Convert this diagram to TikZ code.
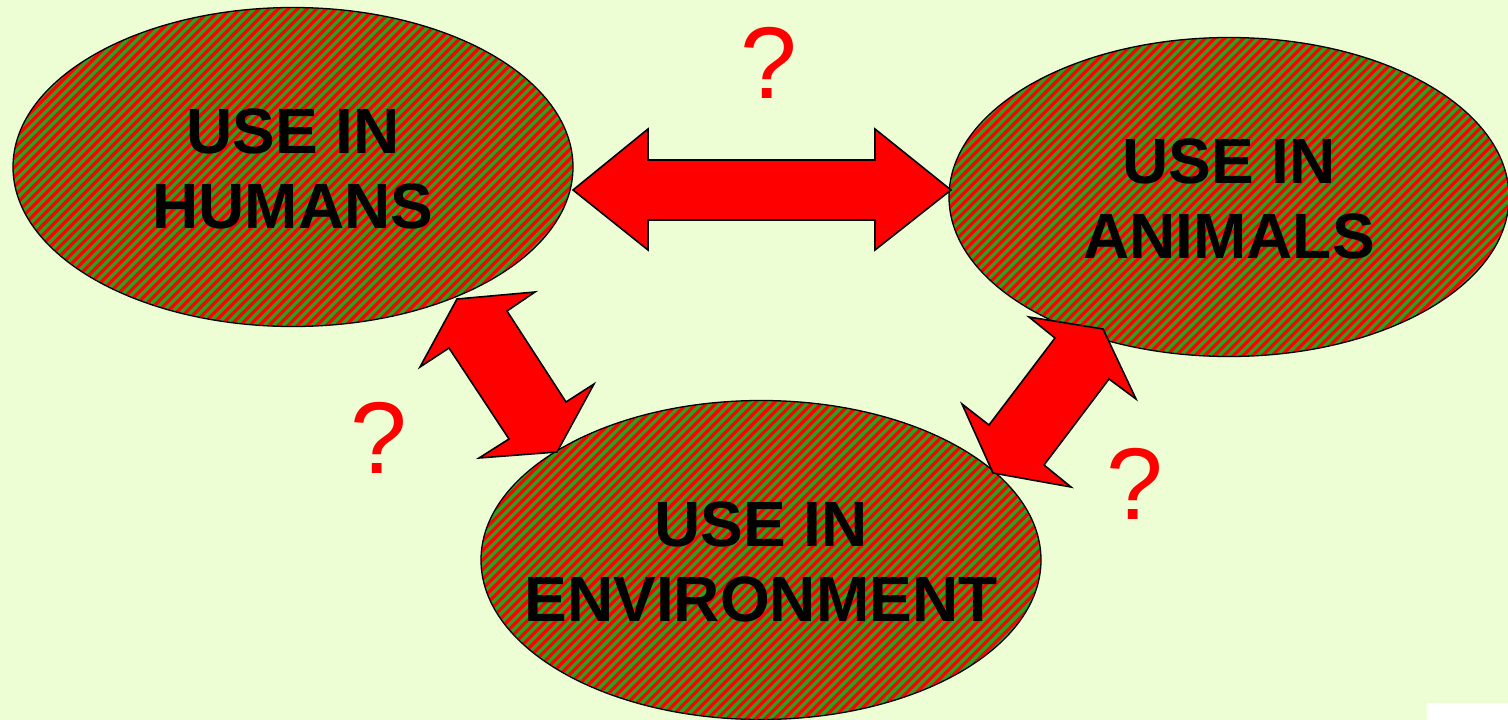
\documentclass[tikz,border=0pt]{standalone}
\usepackage{fontspec}
\setmainfont{Liberation Sans}
\usetikzlibrary{shapes.geometric}
\definecolor{bg}{RGB}{238,254,212}
\definecolor{leaf}{RGB}{44,160,32}
\definecolor{hot}{RGB}{255,0,0}
\begin{document}
\begin{tikzpicture}[x=1pt,y=-1pt,
  blob/.style={ellipse,draw=black,line width=1.3pt,inner sep=0pt,
    minimum width=560pt,minimum height=319pt,fill=leaf,
    path picture={\foreach \k in {-60,...,60}
      \draw[hot,line width=3.2pt] ([xshift=\k*9.6pt]path picture bounding box.center)
        ++(-300pt,-300pt) -- ++(600pt,600pt);}},
  lbl/.style={align=center,font=\fontsize{64}{75}\selectfont\bfseries,text=black,inner sep=0pt},
  qmark/.style={text=hot,font=\fontsize{102}{105}\selectfont,inner sep=0pt},
  fat/.style={fill=hot,draw=black,line width=1.6pt,line join=miter}]
\useasboundingbox (0,0) rectangle (1508,720);
\fill[bg] (0,0) rectangle (1508,720);
\fill[white] (1427,703) rectangle (1508,720);

\node[blob] (hum) at (293,167) {};
\node[blob] (ani) at (1229,197) {};
\node[blob] (env) at (761,560) {};
\node[lbl] (humt) at ([yshift=-2pt]hum.center) {USE IN\\HUMANS};
\node[lbl] (anit) at ([yshift=-2pt]ani.center) {USE IN\\ANIMALS};
\node[lbl] (envt) at ([yshift=-2pt]env.center) {USE IN\\ENVIRONMENT};

% top double arrow
\draw[fat] (573,190) -- (648,129) -- (648,160) -- (875,160) -- (875,129) -- (951,190)
  -- (875,250) -- (875,220) -- (648,220) -- (648,250) -- cycle;
% left diagonal double arrow
\draw[fat] (457,299) -- (535,292) -- (507,311) -- (566,402) -- (594,384) -- (557,452)
  -- (479,458) -- (509,439) -- (449,348) -- (420,367) -- cycle;
% right diagonal double arrow
\draw[fat] (1103,329) -- (1136,399) -- (1109,379) -- (1044,465) -- (1071,487) -- (993,473)
  -- (962,404) -- (989,425) -- (1055,338) -- (1029,317) -- cycle;

\node[qmark] (q1) at (769,63) {?};
\node[qmark] (q2) at (379,438) {?};
\node[qmark] (q3) at (1135,484) {?};
\end{tikzpicture}
\end{document}
